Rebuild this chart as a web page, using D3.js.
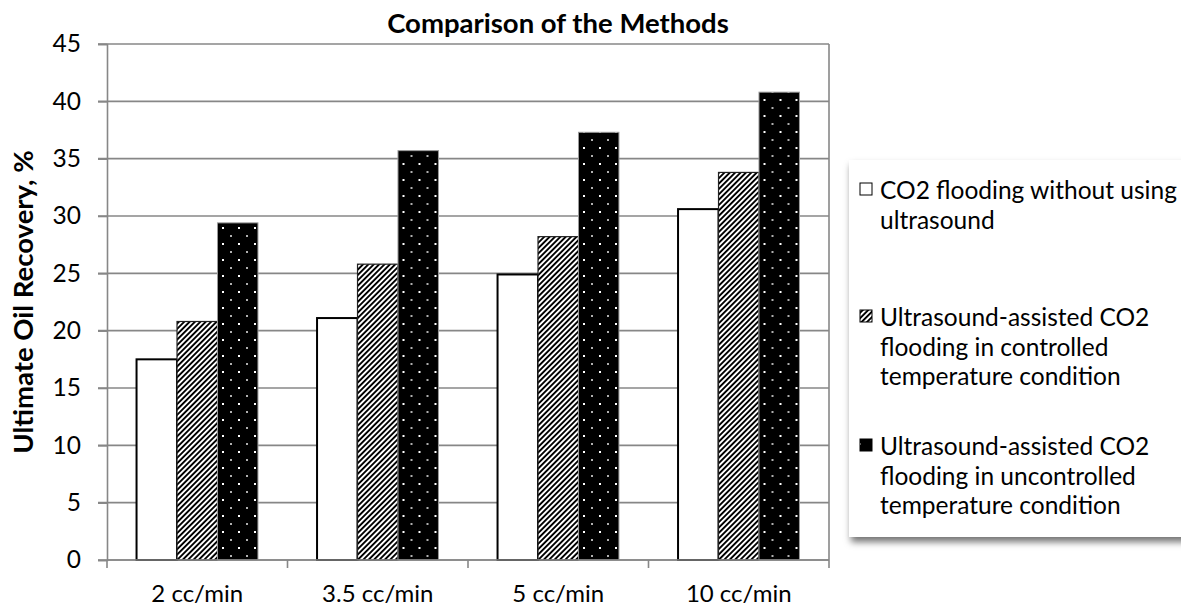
<!DOCTYPE html>
<html>
<head>
<meta charset="utf-8">
<script src="https://cdn.jsdelivr.net/npm/d3@7"></script>
<style>
  body { margin: 0; background: #fff; }
  svg { display: block; font-family: Lato, "Open Sans", sans-serif; }
</style>
</head>
<body>
<script>
// Ultimate oil recovery for the three flooding methods at four injection rates

var categories = ["2 cc/min", "3.5 cc/min", "5 cc/min", "10 cc/min"];
var seriesKeys = ["without", "controlled", "uncontrolled"];
var withoutUltrasound = [17.5, 21.1, 24.9, 30.6];
var controlledTemp = [20.8, 25.8, 28.2, 33.8];
var uncontrolledTemp = [29.4, 35.7, 37.3, 40.8];
var yTicks = [0, 5, 10, 15, 20, 25, 30, 35, 40, 45];
var legendLines = [
  ["CO2 flooding without using", "ultrasound"],
  ["Ultrasound-assisted CO2", "flooding in controlled", "temperature condition"],
  ["Ultrasound-assisted CO2", "flooding in uncontrolled", "temperature condition"]
];

var values = [withoutUltrasound, controlledTemp, uncontrolledTemp];
var data = categories.map(function(c, i) {
  return {cat: c, vals: seriesKeys.map(function(k, j) { return {key: k, value: values[j][i]}; })};
});

var W = 1181, H = 608;
var plot = {left: 107, right: 829, top: 44, bottom: 560};
var gridColor = "#878787";

var svg = d3.select("body").append("svg")
    .attr("width", W)
    .attr("height", H);

var defs = svg.append("defs");

// wide upward diagonal hatch
var hatch = defs.append("pattern")
    .attr("id", "hatch")
    .attr("patternUnits", "userSpaceOnUse")
    .attr("width", 3.8)
    .attr("height", 3.8)
    .attr("patternTransform", "rotate(45)");
hatch.append("rect").attr("width", 3.8).attr("height", 3.8).attr("fill", "#fff");
hatch.append("rect").attr("width", 1.9).attr("height", 3.8).attr("fill", "#000");

// black with small dots
var dots = defs.append("pattern")
    .attr("id", "dots")
    .attr("patternUnits", "userSpaceOnUse")
    .attr("width", 16)
    .attr("height", 16);
dots.append("rect").attr("width", 16).attr("height", 16).attr("fill", "#000");
dots.append("rect").attr("x", 3).attr("y", 3).attr("width", 2).attr("height", 2).attr("fill", "#fff");
dots.append("rect").attr("x", 11).attr("y", 11).attr("width", 2).attr("height", 2).attr("fill", "#b0b0b0");

var shadow = defs.append("filter")
    .attr("id", "shadow")
    .attr("x", "-10%").attr("y", "-10%")
    .attr("width", "130%").attr("height", "130%");
shadow.append("feDropShadow")
    .attr("dx", 2).attr("dy", 5)
    .attr("stdDeviation", 3.5)
    .attr("flood-color", "#000")
    .attr("flood-opacity", 0.55);

var fills = {without: "#fff", controlled: "url(#hatch)", uncontrolled: "url(#dots)"};
var strokes = {without: "#000", controlled: "#222", uncontrolled: "#9a9a9a"};
var strokeW = {without: 2, controlled: 1.2, uncontrolled: 1};

var x0 = d3.scaleBand()
    .domain(categories)
    .range([plot.left, plot.right])
    .paddingInner(0)
    .paddingOuter(0);

var x1 = d3.scaleBand()
    .domain(seriesKeys)
    .range([0, x0.bandwidth()])
    .paddingInner(0)
    .paddingOuter(0.73);

var y = d3.scaleLinear()
    .domain([0, 45])
    .range([plot.bottom, plot.top]);

// gridlines
svg.append("g")
    .attr("class", "grid")
  .selectAll("line")
  .data(yTicks)
  .enter().append("line")
    .attr("x1", plot.left - 9)
    .attr("x2", plot.right)
    .attr("y1", function(d) { return y(d); })
    .attr("y2", function(d) { return y(d); })
    .attr("stroke", gridColor)
    .attr("stroke-width", 1.6);

// right border of plot
svg.append("line")
    .attr("x1", plot.right).attr("x2", plot.right)
    .attr("y1", y(45)).attr("y2", y(0))
    .attr("stroke", gridColor)
    .attr("stroke-width", 1.6);

// bars
var groups = svg.append("g")
  .selectAll("g")
  .data(data)
  .enter().append("g")
    .attr("transform", function(d) { return "translate(" + x0(d.cat) + ",0)"; });

groups.selectAll("rect")
    .data(function(d) { return d.vals; })
  .enter().append("rect")
    .attr("x", function(d) { return x1(d.key); })
    .attr("y", function(d) { return y(d.value); })
    .attr("width", x1.bandwidth())
    .attr("height", function(d) { return y(0) - y(d.value); })
    .attr("fill", function(d) { return fills[d.key]; })
    .attr("stroke", function(d) { return strokes[d.key]; })
    .attr("stroke-width", function(d) { return strokeW[d.key]; });

// y axis
var yAxis = d3.axisLeft(y)
    .tickValues(yTicks)
    .tickSize(9)
    .tickPadding(17);

svg.append("g")
    .attr("class", "y axis")
    .attr("transform", "translate(" + plot.left + ",0)")
    .call(yAxis)
    .call(function(g) {
      g.select(".domain").attr("stroke", gridColor).attr("stroke-width", 1.6);
      g.selectAll(".tick line").attr("stroke", gridColor).attr("stroke-width", 1.6);
      g.selectAll("text")
        .attr("font-family", "Lato, sans-serif")
        .attr("font-size", 24.5)
        .attr("fill", "#000");
    });

// x axis: labels at band centres, ticks at band edges
var xAxis = d3.axisBottom(x0).tickSize(0).tickPadding(0);

svg.append("g")
    .attr("class", "x axis")
    .attr("transform", "translate(0," + plot.bottom + ")")
    .call(xAxis)
    .call(function(g) {
      g.select(".domain").remove();
      g.selectAll("text")
        .attr("font-family", "Lato, sans-serif")
        .attr("font-size", 24)
        .attr("fill", "#000")
        .attr("dy", null)
        .attr("y", 42);
    });

svg.append("line")
    .attr("x1", plot.left).attr("x2", plot.right)
    .attr("y1", plot.bottom).attr("y2", plot.bottom)
    .attr("stroke", gridColor)
    .attr("stroke-width", 1.6);

svg.append("g")
  .selectAll("line")
  .data(categories.concat(["end"]))
  .enter().append("line")
    .attr("x1", function(d) { return d === "end" ? plot.right : x0(d); })
    .attr("x2", function(d) { return d === "end" ? plot.right : x0(d); })
    .attr("y1", plot.bottom)
    .attr("y2", plot.bottom + 8)
    .attr("stroke", gridColor)
    .attr("stroke-width", 1.6);

// titles
svg.append("text")
    .attr("x", 558)
    .attr("y", 33)
    .attr("text-anchor", "middle")
    .attr("font-weight", "bold")
    .attr("font-size", 27.5)
    .text("Comparison of the Methods");

svg.append("text")
    .attr("transform", "translate(33," + ((plot.top + plot.bottom) / 2) + ") rotate(-90)")
    .attr("text-anchor", "middle")
    .attr("font-weight", "bold")
    .attr("font-size", 27.5)
    .text("Ultimate Oil Recovery, %");

// legend
var legendX = 849, legendY = 160;
svg.append("rect")
    .attr("x", legendX)
    .attr("y", legendY)
    .attr("width", W - legendX + 20)
    .attr("height", 537 - legendY)
    .attr("fill", "#fff")
    .attr("filter", "url(#shadow)");

var itemBaselines = [199, 326, 455];
var lineH = 29.5;

var items = svg.append("g")
  .selectAll("g")
  .data(seriesKeys)
  .enter().append("g");

items.append("rect")
    .attr("x", 860)
    .attr("y", function(d, i) { return itemBaselines[i] - 16; })
    .attr("width", 12)
    .attr("height", 12)
    .attr("fill", function(d) { return fills[d]; })
    .attr("stroke", "#000")
    .attr("stroke-width", 1);

items.append("text")
    .attr("font-size", 24.5)
    .attr("fill", "#000")
  .selectAll("tspan")
  .data(function(d, i) { return legendLines[i].map(function(t, j) { return {t: t, y: itemBaselines[i] + j * lineH}; }); })
  .enter().append("tspan")
    .attr("x", 880)
    .attr("y", function(d) { return d.y; })
    .text(function(d) { return d.t; });
</script>
</body>
</html>
